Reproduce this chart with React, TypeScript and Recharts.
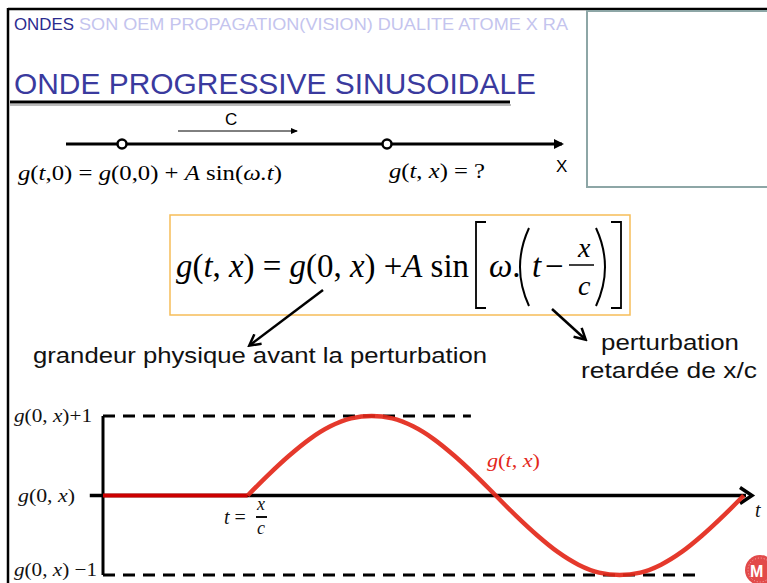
import React from 'react';
import { LineChart, Line, XAxis, YAxis, ReferenceLine } from 'recharts';

// flat part before the wave reaches x (t < x/c)
const flatT = [0, 3.5];
const flatG = [0, 0];

// retarded sine (units of g, one period = 12 t-units)
const waveT = [3.5, 4, 4.5, 5, 5.5, 6, 6.5, 7, 7.5, 8, 8.5, 9, 9.5, 10, 10.5, 11, 11.5, 12, 12.5, 13, 13.5, 14, 14.5, 15, 15.5];
const waveG = [0, 0.26, 0.5, 0.71, 0.87, 0.97, 1, 0.97, 0.87, 0.71, 0.5, 0.26, 0, -0.26, -0.5, -0.71, -0.87, -0.97, -1, -0.97, -0.87, -0.71, -0.5, -0.26, 0];

const yTicks = [-1, 0, 1];
const yTickLabels = ['g(0,x) \u22121', 'g(0,x)', 'g(0,x)+1'];

const navItems = ['ONDES', 'SON OEM PROPAGATION(VISION) DUALITE ATOME X RA'];

const flatData = flatT.map((t, i) => ({ t, g: flatG[i] }));
const waveData = waveT.map((t, i) => ({ t, g: waveG[i] }));

const serif = '"Liberation Serif", "DejaVu Serif", serif';
const sans = '"Liberation Sans", Arial, sans-serif';

function MathLabel({ label }: { label: string }) {
    // g(0,x)... with g and x in italics
    const rest = label.slice(6);
    return (
        <>
            <tspan fontStyle="italic">g</tspan>
            <tspan>(0, </tspan>
            <tspan fontStyle="italic">x</tspan>
            <tspan>){rest}</tspan>
        </>
    );
}

function YTick(props: any) {
    const { y, payload } = props;
    const idx = yTicks.indexOf(payload.value);
    const label = yTickLabels[idx];
    const x0 = payload.value === 0 ? 18 : 14;
    const len = payload.value === 0 ? 57 : payload.value === 1 ? 78 : 83;
    // bottom label sits right at the slide edge, lift it a little
    const dy = payload.value === -1 ? 1 : 6;
    return (
        <text x={x0} y={y + dy} fontFamily={serif} fontSize={19} fill="#111" textLength={len} lengthAdjust="spacingAndGlyphs">
            <MathLabel label={label} />
        </text>
    );
}

function ArrowAxis(props: any) {
    const { x1, y1, x2, y2 } = props;
    return (
        <g>
            <line x1={x1} y1={y1} x2={x2 - 6} y2={y2} stroke="#000" strokeWidth={3.5} />
            <path d={`M ${x2 - 12} ${y2 - 8} L ${x2} ${y2} L ${x2 - 12} ${y2 + 8}`} fill="none" stroke="#000" strokeWidth={3.5} />
        </g>
    );
}

function WaveChart() {
    return (
        <LineChart width={767} height={183} margin={{ top: 16, right: 15, left: 8, bottom: 8 }}>
            <XAxis type="number" dataKey="t" domain={[0, 15.7]} hide allowDataOverflow />
            <YAxis
                type="number"
                domain={[-1, 1]}
                ticks={yTicks}
                interval={0}
                width={95}
                axisLine={false}
                tickLine={false}
                tick={<YTick />}
            />
            <ReferenceLine segment={[{ x: 0, y: 1 }, { x: 8.9, y: 1 }]} stroke="#000" strokeWidth={3} strokeDasharray="12 8" ifOverflow="visible" />
            <ReferenceLine segment={[{ x: 0, y: -1 }, { x: 14.45, y: -1 }]} stroke="#000" strokeWidth={3} strokeDasharray="12 8" ifOverflow="visible" />
            <ReferenceLine segment={[{ x: 0, y: -1 }, { x: 0, y: 1 }]} stroke="#000" strokeWidth={3} ifOverflow="visible" />
            <ReferenceLine segment={[{ x: -0.32, y: 0 }, { x: 15.7, y: 0 }]} ifOverflow="visible" shape={<ArrowAxis />} />
            <Line data={flatData} dataKey="g" type="linear" stroke="#cc0000" strokeWidth={4} dot={false} isAnimationActive={false} />
            <Line data={waveData} dataKey="g" type="monotone" stroke="#e3281a" strokeWidth={4.5} strokeOpacity={0.92} dot={false} isAnimationActive={false} />
        </LineChart>
    );
}

export default function App() {
    return (
        <div style={{ position: 'fixed', left: 0, top: 0, width: 767, height: 583, background: '#fff', overflow: 'hidden' }}>
            <svg width={767} height={583} style={{ position: 'absolute', left: 0, top: 0 }}>
                <defs>
                    <marker id="head" markerWidth="10" markerHeight="10" refX="8" refY="5" orient="auto" markerUnits="userSpaceOnUse">
                        <path d="M0,0 L10,5 L0,10 z" fill="#000" />
                    </marker>
                    <marker id="headSmall" markerWidth="7" markerHeight="6" refX="6" refY="3" orient="auto" markerUnits="userSpaceOnUse">
                        <path d="M0,0 L7,3 L0,6 z" fill="#000" />
                    </marker>
                    <marker id="headOpen" markerWidth="14" markerHeight="14" refX="11" refY="7" orient="auto" markerUnits="userSpaceOnUse">
                        <path d="M1,1 L12,7 L1,13" fill="none" stroke="#000" strokeWidth="2.5" />
                    </marker>
                </defs>

                {/* slide frame */}
                <line x1={8} y1={9} x2={767} y2={9} stroke="#000" strokeWidth={2.5} />
                <line x1={8} y1={8} x2={8} y2={583} stroke="#000" strokeWidth={2.5} />
                <rect x={587} y={11} width={190} height={176} fill="#fff" stroke="#8da6a6" strokeWidth={2} />

                {/* nav bar */}
                <text x={14} y={30} fontFamily={sans} fontSize={17} fill="#2b2b8f" textLength={60} lengthAdjust="spacingAndGlyphs">{navItems[0]}</text>
                <text x={79} y={30} fontFamily={sans} fontSize={17} fill="#c4c4ee" textLength={489} lengthAdjust="spacingAndGlyphs">{navItems[1]}</text>

                {/* title */}
                <text x={14} y={94} fontFamily={sans} fontSize={29} fill="#3a3a9e" textLength={522} lengthAdjust="spacingAndGlyphs">ONDE PROGRESSIVE SINUSOIDALE</text>
                <line x1={10} y1={105} x2={511} y2={105} stroke="#bbb" strokeWidth={2} />
                <line x1={10} y1={102} x2={510} y2={102} stroke="#000" strokeWidth={3} />

                {/* propagation axis */}
                <text x={225} y={125} fontFamily={sans} fontSize={17} fill="#000">C</text>
                <line x1={178} y1={131} x2={297} y2={131} stroke="#000" strokeWidth={1} markerEnd="url(#headSmall)" />
                <line x1={66} y1={144} x2={562} y2={144} stroke="#000" strokeWidth={3} markerEnd="url(#head)" />
                <circle cx={122} cy={144} r={4.5} fill="#fff" stroke="#000" strokeWidth={2.5} />
                <circle cx={387} cy={144} r={4.5} fill="#fff" stroke="#000" strokeWidth={2.5} />
                <text x={556} y={172} fontFamily={sans} fontSize={17} fill="#000">X</text>
                <text x={18} y={180} fontFamily={serif} fontSize={20} fill="#000" textLength={264} lengthAdjust="spacingAndGlyphs">
                    <tspan fontStyle="italic">g</tspan>(<tspan fontStyle="italic">t</tspan>,0) =  <tspan fontStyle="italic">g</tspan>(0,0) + <tspan fontStyle="italic">A</tspan> sin(<tspan fontStyle="italic">{'\u03C9'}.t</tspan>)
                </text>
                <text x={389} y={178} fontFamily={serif} fontSize={20} fill="#000" textLength={96} lengthAdjust="spacingAndGlyphs">
                    <tspan fontStyle="italic">g</tspan>(<tspan fontStyle="italic">t</tspan>, <tspan fontStyle="italic">x</tspan>) = ?
                </text>

                {/* formula box */}
                <rect x={170} y={215} width={460} height={100} fill="#fff" stroke="#f6bd58" strokeWidth={1.5} />
                <text x={176} y={277} fontFamily={serif} fontSize={33} fill="#000" textLength={293} lengthAdjust="spacingAndGlyphs">
                    <tspan fontStyle="italic">g</tspan>(<tspan fontStyle="italic">t</tspan>, <tspan fontStyle="italic">x</tspan>) = <tspan fontStyle="italic">g</tspan>(0, <tspan fontStyle="italic">x</tspan>) +<tspan fontStyle="italic">A</tspan> sin
                </text>
                <polyline points="486,222 476,222 476,308 486,308" fill="none" stroke="#000" strokeWidth={1.8} />
                <text x={489} y={277} fontFamily={serif} fontSize={33} fill="#000">
                    <tspan fontStyle="italic">{'\u03C9'}</tspan>.
                </text>
                <path d="M 529 228 Q 511 267 529 306" fill="none" stroke="#000" strokeWidth={2} />
                <text x={532} y={277} fontFamily={serif} fontSize={33} fontStyle="italic" fill="#000">t</text>
                <text x={545} y={277} fontFamily={serif} fontSize={33} fill="#000">{'\u2212'}</text>
                <text x={578} y={257} fontFamily={serif} fontSize={28} fontStyle="italic" fill="#000">x</text>
                <line x1={569} y1={265} x2={594} y2={265} stroke="#000" strokeWidth={1.5} />
                <text x={578} y={295} fontFamily={serif} fontSize={28} fontStyle="italic" fill="#000">c</text>
                <path d="M 596 228 Q 614 267 596 306" fill="none" stroke="#000" strokeWidth={2} />
                <polyline points="611,222 621,222 621,308 611,308" fill="none" stroke="#000" strokeWidth={1.8} />

                {/* annotation arrows */}
                <line x1={323} y1={290} x2={250} y2={345} stroke="#000" strokeWidth={2.5} markerEnd="url(#headOpen)" />
                <line x1={552} y1={309} x2={585} y2={339} stroke="#000" strokeWidth={2.5} markerEnd="url(#headOpen)" />
                <text x={33} y={363} fontFamily={sans} fontSize={22} fill="#111" textLength={454} lengthAdjust="spacingAndGlyphs">grandeur physique avant la perturbation</text>
                <text x={601} y={350} fontFamily={sans} fontSize={22} fill="#111" textLength={138} lengthAdjust="spacingAndGlyphs">perturbation</text>
                <text x={581} y={378} fontFamily={sans} fontSize={22} fill="#111" textLength={176} lengthAdjust="spacingAndGlyphs">retardée de x/c</text>
            </svg>

            <div style={{ position: 'absolute', left: 0, top: 400 }}>
                <WaveChart />
            </div>

            <svg width={767} height={583} style={{ position: 'absolute', left: 0, top: 0, pointerEvents: 'none' }}>
                <text x={487} y={467} fontFamily={serif} fontSize={19} fill="#e3281a" textLength={53} lengthAdjust="spacingAndGlyphs">
                    <tspan fontStyle="italic">g</tspan>(<tspan fontStyle="italic">t</tspan>, <tspan fontStyle="italic">x</tspan>)
                </text>
                <text x={224} y={524} fontFamily={serif} fontSize={20} fill="#111">
                    <tspan fontStyle="italic">t</tspan> =
                </text>
                <text x={257} y={510} fontFamily={serif} fontSize={18} fontStyle="italic" fill="#111">x</text>
                <line x1={256} y1={517} x2={267} y2={517} stroke="#111" strokeWidth={2} />
                <text x={257} y={534} fontFamily={serif} fontSize={18} fontStyle="italic" fill="#111">c</text>
                <text x={755} y={517} fontFamily={serif} fontSize={20} fontStyle="italic" fill="#111">t</text>
                <circle cx={760} cy={570} r={15} fill="#e24a4a" />
                <circle cx={760} cy={570} r={12} fill="none" stroke="#f6b0b0" strokeWidth={1} strokeDasharray="1 2" />
                <text x={750} y={577} fontFamily={sans} fontSize={16} fontWeight="bold" fill="#fff">M</text>
            </svg>
        </div>
    );
}
